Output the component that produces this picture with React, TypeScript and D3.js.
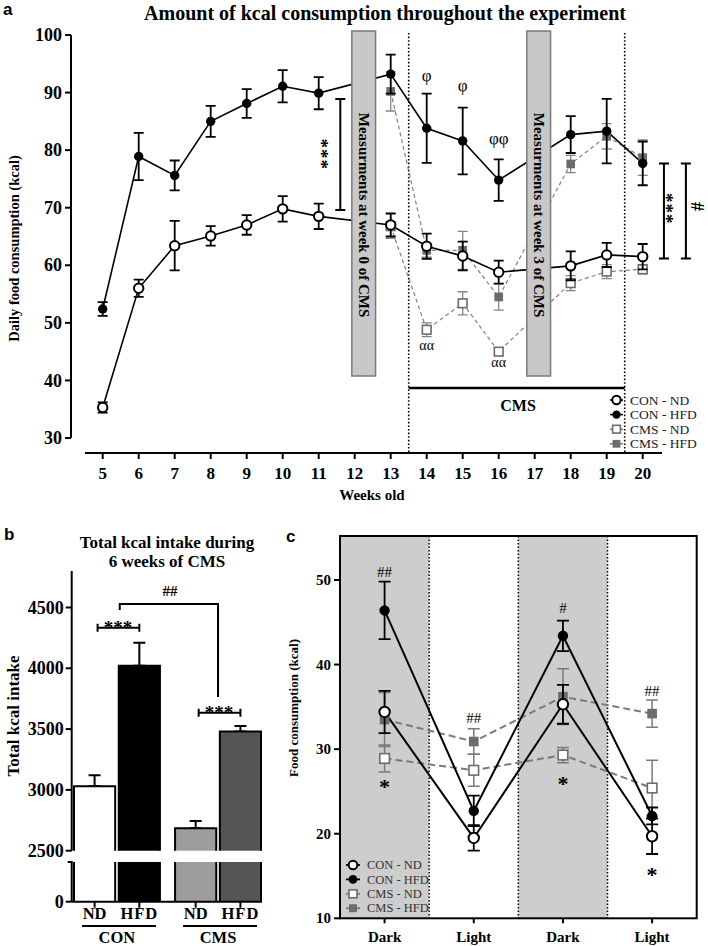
import React from 'react';
import * as d3 from 'd3';

// ---- panel a: daily kcal per week ----
const weeks = [5, 6, 7, 8, 9, 10, 11, 13, 14, 15, 16, 18, 19, 20];
const conNd = [35.3, 56.0, 63.4, 65.1, 67.0, 69.8, 68.5, 67.0, 63.3, 61.6, 58.8, 59.9, 61.8, 61.5];
const conNdErr = [0.9, 1.5, 4.3, 1.7, 1.7, 2.2, 2.2, 2.0, 2.2, 2.5, 2.0, 2.5, 2.1, 2.2];
const conHfd = [52.4, 78.9, 75.6, 85.0, 88.1, 91.1, 89.9, 93.2, 83.8, 81.6, 74.8, 82.7, 83.3, 77.7];
const conHfdErr = [1.2, 4.1, 2.6, 2.7, 2.5, 2.8, 2.8, 3.4, 6.0, 5.8, 3.6, 3.2, 5.6, 3.8];
const cmsWeeks = [13, 14, 15, 16, 18, 19, 20];
const cmsNd = [66.8, 48.8, 53.4, 45.0, 56.9, 58.9, 59.3];
const cmsNdErr = [2.1, 1.2, 2.0, 0.6, 1.3, 1.2, 0.8];
const cmsHfd = [90.2, 62.6, 62.6, 54.5, 77.6, 82.4, 78.7];
const cmsHfdErr = [3.4, 1.2, 3.3, 2.3, 1.5, 2.2, 3.1];
const weekTicks = [5, 6, 7, 8, 9, 10, 11, 12, 13, 14, 15, 16, 17, 18, 19, 20];
const dailyTicks = [30, 40, 50, 60, 70, 80, 90, 100];
const phiMarks = [[14, 93.0, 'φ'], [15, 91.3, 'φ'], [16, 82.1, 'φφ']];
const alphaMarks = [[14, 46.1], [16, 43.0]];

// ---- panel b: total kcal over 6 weeks of CMS ----
const barGroups = ['CON', 'CMS'];
const diets = ['ND', 'HFD'];
const totalKcal = [3030, 4020, 2685, 3480];
const totalKcalErr = [90, 190, 60, 45];
const totalTicks = [2500, 3000, 3500, 4000, 4500];

// ---- panel c: dark / light phase ----
const phases = ['Dark', 'Light', 'Dark', 'Light'];
const phConNd = [34.4, 19.5, 35.3, 19.7];
const phConNdErr = [2.5, 1.5, 2.3, 2.1];
const phConHfd = [46.4, 22.7, 43.4, 22.1];
const phConHfdErr = [3.4, 1.8, 1.8, 1.0];
const phCmsNd = [28.9, 27.5, 29.3, 25.4];
const phCmsNdErr = [1.6, 1.9, 0.9, 3.3];
const phCmsHfd = [33.5, 30.9, 36.2, 34.2];
const phCmsHfdErr = [3.2, 1.5, 3.3, 1.6];
const phaseTicks = [10, 20, 30, 40, 50];
const hashMarks = [[0, 51.0, '##'], [1, 33.7, '##'], [2, 46.7, '#'], [3, 36.9, '##']];
const starMarks = [[0, 26.6], [2, 27.0], [3, 16.2]];

const serif = "'Liberation Serif', 'Times New Roman', Times, serif";
const sans = "'Liberation Sans', Arial, Helvetica, sans-serif";
const GRAY = '#6c6c6c';

type Kind = 'oc' | 'fc' | 'os' | 'fs';

function Marker({ kind, x, y, r }: { kind: Kind; x: number; y: number; r: number }) {
  if (kind === 'oc') return <circle cx={x} cy={y} r={r} fill="#fff" stroke="#000" strokeWidth={2} />;
  if (kind === 'fc') return <circle cx={x} cy={y} r={r} fill="#000" />;
  const s = r * 1.85;
  if (kind === 'os')
    return <rect x={x - s / 2} y={y - s / 2} width={s} height={s} fill="#fff" stroke={GRAY} strokeWidth={1.6} />;
  return <rect x={x - s / 2} y={y - s / 2} width={s} height={s} fill={GRAY} />;
}

function ErrBar({ x, y1, y2, cap, color, w }: any) {
  return (
    <path
      d={`M${x},${y1}V${y2}M${x - cap},${y1}H${x + cap}M${x - cap},${y2}H${x + cap}`}
      stroke={color}
      strokeWidth={w}
      fill="none"
    />
  );
}

function ErrBarH({ x1, x2, y }: { x1: number; x2: number; y: number }) {
  return <path d={`M${x1},${y}H${x2}M${x1},${y - 4}V${y + 4}M${x2},${y - 4}V${y + 4}`} fill="none" stroke="#000" strokeWidth={2} />;
}

const isCon = (k: Kind) => k === 'oc' || k === 'fc';

function PanelA() {
  const x = d3.scaleLinear().domain([5, 20]).range([102.7, 642.7]);
  const y = d3.scaleLinear().domain([30, 100]).range([438, 35]);
  const axisY = 453;

  const series = [
    { name: 'CON - ND', kind: 'oc' as Kind, wk: weeks, v: conNd, e: conNdErr },
    { name: 'CON - HFD', kind: 'fc' as Kind, wk: weeks, v: conHfd, e: conHfdErr },
    { name: 'CMS - ND', kind: 'os' as Kind, wk: cmsWeeks, v: cmsNd, e: cmsNdErr },
    { name: 'CMS - HFD', kind: 'fs' as Kind, wk: cmsWeeks, v: cmsHfd, e: cmsHfdErr },
  ];
  const drawOrder = [2, 3, 0, 1];

  const boxes: [number, number, string][] = [
    [11.92, 12.58, 'Measurments at week 0 of CMS'],
    [16.78, 17.44, 'Measurments at week 3 of CMS'],
  ];

  return (
    <g>
      <text x={3} y={15} fontFamily={sans} fontWeight="bold" fontSize={17}>a</text>
      <text x={385} y={20} textAnchor="middle" fontFamily={serif} fontWeight="bold" fontSize={20}>
        Amount of kcal consumption throughout the experiment
      </text>

      {/* y axis */}
      <line x1={71} x2={71} y1={y(100)} y2={y(30)} stroke="#000" strokeWidth={2} />
      {dailyTicks.map((t) => (
        <g key={t}>
          <line x1={65} x2={71} y1={y(t)} y2={y(t)} stroke="#000" strokeWidth={2} />
          <text x={62} y={y(t)} dy="0.34em" textAnchor="end" fontFamily={serif} fontWeight="bold" fontSize={18}>
            {t}
          </text>
        </g>
      ))}
      <text
        transform={`translate(19,${(y(100) + y(30)) / 2 + 12}) rotate(-90)`}
        textAnchor="middle"
        fontFamily={serif}
        fontWeight="bold"
        fontSize={14.5}
      >
        Daily food consumption (kcal)
      </text>

      {/* x axis */}
      <line x1={85} x2={662} y1={axisY} y2={axisY} stroke="#000" strokeWidth={2} />
      {weekTicks.map((t) => (
        <g key={t}>
          <line x1={x(t)} x2={x(t)} y1={axisY} y2={axisY + 6} stroke="#000" strokeWidth={2} />
          <text x={x(t)} y={479} textAnchor="middle" fontFamily={serif} fontWeight="bold" fontSize={17}>
            {t}
          </text>
        </g>
      ))}
      <text x={372} y={500} textAnchor="middle" fontFamily={serif} fontWeight="bold" fontSize={15}>
        Weeks old
      </text>

      {/* CMS period */}
      {[13.5, 19.5].map((w) => (
        <line key={w} x1={x(w)} x2={x(w)} y1={33} y2={axisY} stroke="#000" strokeWidth={1.6} strokeDasharray="1.6,2" />
      ))}
      <line x1={x(13.5)} x2={x(19.5)} y1={388} y2={388} stroke="#000" strokeWidth={2.5} />
      <text x={518} y={411} textAnchor="middle" fontFamily={serif} fontWeight="bold" fontSize={16}>CMS</text>

      {/* lines */}
      {drawOrder.map((si) => {
        const s = series[si];
        const line = d3.line<number>().x((_, i) => x(s.wk[i])).y((d) => y(d));
        const con = isCon(s.kind);
        return (
          <path
            key={'l' + si}
            d={line(s.v) || ''}
            fill="none"
            stroke={con ? '#000' : '#808080'}
            strokeWidth={con ? 1.6 : 1.2}
            strokeDasharray={con ? undefined : '4,3'}
          />
        );
      })}

      {/* measurement boxes */}
      {boxes.map(([a, b, label]) => {
        const cx = (x(a) + x(b)) / 2;
        return (
          <g key={label}>
            <rect x={x(a)} y={31} width={x(b) - x(a)} height={345} fill="#c8c8c8" stroke="#7a7a7a" strokeWidth={1.5} />
            <text
              transform={`translate(${cx},215) rotate(90)`}
              textAnchor="middle"
              dominantBaseline="central"
              fontFamily={serif}
              fontWeight="bold"
              fontSize={15}
            >
              {label}
            </text>
          </g>
        );
      })}

      {/* error bars + markers */}
      {drawOrder.map((si) => {
        const s = series[si];
        const con = isCon(s.kind);
        return (
          <g key={'m' + si}>
            {s.v.map((v, i) => (
              <ErrBar
                key={i}
                x={x(s.wk[i])}
                y1={y(v + s.e[i])}
                y2={y(v - s.e[i])}
                cap={5}
                color={con ? '#000' : '#858585'}
                w={con ? 1.8 : 1.3}
              />
            ))}
            {s.v.map((v, i) => (
              <Marker key={i} kind={s.kind} x={x(s.wk[i])} y={y(v)} r={4.7} />
            ))}
          </g>
        );
      })}

      {/* significance */}
      {phiMarks.map(([w, v, t], i) => (
        <text key={i} x={x(w as number)} y={y(v as number)} dy="0.35em" textAnchor="middle" fontFamily={serif} fontSize={17} fill="#000">
          {t}
        </text>
      ))}
      {alphaMarks.map(([w, v], i) => (
        <text key={i} x={x(w)} y={y(v)} dy="0.3em" textAnchor="middle" fontFamily={serif} fontSize={14} fill="#000">
          αα
        </text>
      ))}
      <ErrBar x={x(11.6)} y1={y(88.9)} y2={y(69.6)} cap={5} color="#000" w={2} />
      <text transform={`translate(${x(11.6) - 12},${y(79.3)}) rotate(90)`} textAnchor="middle" dy="0.72em" fontFamily={serif} fontWeight="bold" fontSize={19} letterSpacing={1}>
        ***
      </text>
      <ErrBar x={x(20.59)} y1={y(77.7)} y2={y(61.2)} cap={5} color="#000" w={2} />
      <ErrBar x={x(21.2)} y1={y(77.7)} y2={y(61.2)} cap={5} color="#000" w={2} />
      <text transform={`translate(${x(20.85)},${y(69.8)}) rotate(90)`} textAnchor="middle" dy="0.72em" fontFamily={serif} fontWeight="bold" fontSize={19} letterSpacing={1}>
        ***
      </text>
      <text transform={`translate(${x(21.52)},${y(70.2)}) rotate(90)`} textAnchor="middle" dy="0.33em" fontFamily={serif} fontWeight="bold" fontSize={18}>
        #
      </text>

      {/* legend */}
      {series.map((s, i) => {
        const ly = 400 + i * 14.6;
        const con = isCon(s.kind);
        return (
          <g key={s.name}>
            <line x1={610} x2={623} y1={ly} y2={ly} stroke={con ? '#000' : '#808080'} strokeWidth={1.5} strokeDasharray={con ? undefined : '3,2'} />
            <Marker kind={s.kind} x={616.5} y={ly} r={4.2} />
            <text x={630} y={ly} dy="0.34em" fontFamily={serif} fontSize={13.5} fill="#222">
              {s.name}
            </text>
          </g>
        );
      })}
    </g>
  );
}

function PanelB() {
  const yUp = d3.scaleLinear().domain([2500, 4800]).range([850.7, 571]);
  const yLow = d3.scaleLinear().domain([0, 2500]).range([901.7, 862]);
  const gx = d3.scaleBand().domain(barGroups).range([74, 261]).paddingInner(0.15);
  const dx = d3.scaleBand().domain(diets).range([0, gx.bandwidth()]).paddingInner(0.08);
  const fills = ['#ffffff', '#000000', '#9c9c9c', '#555555'];
  const axX = 71.7;
  const bars = totalKcal.map((v, i) => {
    const g = barGroups[Math.floor(i / 2)];
    const d = diets[i % 2];
    const x0 = (gx(g) as number) + (dx(d) as number);
    return { v, e: totalKcalErr[i], x0, w: dx.bandwidth(), cx: x0 + dx.bandwidth() / 2, fill: fills[i], d, g };
  });

  return (
    <g>
      <text x={4} y={540} fontFamily={sans} fontWeight="bold" fontSize={17}>b</text>
      <text x={167} y={548} textAnchor="middle" fontFamily={serif} fontWeight="bold" fontSize={17}>
        Total kcal intake during
      </text>
      <text x={167} y={567} textAnchor="middle" fontFamily={serif} fontWeight="bold" fontSize={17}>
        6 weeks of CMS
      </text>

      {/* bars */}
      {bars.map((b, i) => (
        <g key={i}>
          <ErrBar x={b.cx} y1={yUp(b.v + b.e)} y2={yUp(b.v)} cap={6} color="#000" w={2} />
          <rect x={b.x0} y={yUp(b.v)} width={b.w} height={yUp(2500) - yUp(b.v)} fill={b.fill} />
          <path d={`M${b.x0},${yUp(2500)}V${yUp(b.v)}H${b.x0 + b.w}V${yUp(2500)}`} fill="none" stroke="#000" strokeWidth={2} />
          <rect x={b.x0} y={yLow(2500)} width={b.w} height={yLow(0) - yLow(2500)} fill={b.fill} />
          <path d={`M${b.x0},${yLow(2500)}V${yLow(0)}M${b.x0 + b.w},${yLow(2500)}V${yLow(0)}`} fill="none" stroke="#000" strokeWidth={2} />
        </g>
      ))}

      {/* broken y axis */}
      <path d={`M${axX},571V${yUp(2500)}`} stroke="#000" strokeWidth={2} fill="none" />
      <path d={`M${axX - 4},${yLow(2500)}H${axX}V${yLow(0)}`} stroke="#000" strokeWidth={2} fill="none" />
      {totalTicks.map((t) => (
        <g key={t}>
          <line x1={axX - 6} x2={axX} y1={yUp(t)} y2={yUp(t)} stroke="#000" strokeWidth={2} />
          <text x={axX - 8} y={yUp(t)} dy="0.34em" textAnchor="end" fontFamily={serif} fontWeight="bold" fontSize={18}>
            {t}
          </text>
        </g>
      ))}
      <line x1={axX - 6} x2={axX} y1={yLow(0)} y2={yLow(0)} stroke="#000" strokeWidth={2} />
      <text x={axX - 8} y={yLow(0)} dy="0.34em" textAnchor="end" fontFamily={serif} fontWeight="bold" fontSize={18}>0</text>
      <text transform={`translate(19,716) rotate(-90)`} textAnchor="middle" fontFamily={serif} fontWeight="bold" fontSize={17}>
        Total kcal intake
      </text>

      {/* x axis */}
      <line x1={axX} x2={262} y1={yLow(0)} y2={yLow(0)} stroke="#000" strokeWidth={2} />
      {bars.map((b, i) => (
        <g key={i}>
          <line x1={b.cx} x2={b.cx} y1={yLow(0)} y2={yLow(0) + 6} stroke="#000" strokeWidth={2} />
          <text x={b.cx} y={919} textAnchor="middle" fontFamily={serif} fontWeight="bold" fontSize={16.5} letterSpacing={i % 2 ? 1 : 0}>
            {b.d}
          </text>
        </g>
      ))}
      {barGroups.map((g) => {
        const gx0 = gx(g) as number;
        return (
          <g key={g}>
            <line x1={gx0 + 8} x2={gx0 + gx.bandwidth() - 4} y1={926} y2={926} stroke="#000" strokeWidth={2} />
            <text x={gx0 + gx.bandwidth() / 2} y={943} textAnchor="middle" fontFamily={serif} fontWeight="bold" fontSize={16.5}>
              {g}
            </text>
          </g>
        );
      })}

      {/* significance */}
      <ErrBarH x1={bars[0].cx + 3} x2={bars[1].cx} y={627.7} />
      <text x={(bars[0].cx + bars[1].cx) / 2 + 1} y={634} textAnchor="middle" fontFamily={serif} fontWeight="bold" fontSize={19}>***</text>
      <ErrBarH x1={bars[2].cx + 3} x2={bars[3].cx} y={712.7} />
      <text x={(bars[2].cx + bars[3].cx) / 2 + 1} y={719} textAnchor="middle" fontFamily={serif} fontWeight="bold" fontSize={19}>***</text>
      <path d={`M${bars[1].x0 + 1},610V604H${(bars[2].x0 + bars[2].w + bars[3].x0) / 2}V697`} fill="none" stroke="#000" strokeWidth={2} />
      <text x={170} y={596} textAnchor="middle" fontFamily={serif} fontWeight="bold" fontSize={15}>##</text>
    </g>
  );
}

function PanelC() {
  const idx = phases.map((_, i) => i);
  const x = d3.scaleBand<number>().domain(idx).range([340, 696.7]).padding(0);
  const y = d3.scaleLinear().domain([10, 55.2]).range([918.3, 536]);
  const cx = (i: number) => (x(i) as number) + x.bandwidth() / 2;

  const series = [
    { name: 'CON - ND', kind: 'oc' as Kind, v: phConNd, e: phConNdErr },
    { name: 'CON - HFD', kind: 'fc' as Kind, v: phConHfd, e: phConHfdErr },
    { name: 'CMS - ND', kind: 'os' as Kind, v: phCmsNd, e: phCmsNdErr },
    { name: 'CMS - HFD', kind: 'fs' as Kind, v: phCmsHfd, e: phCmsHfdErr },
  ];
  const drawOrder = [2, 3, 0, 1];
  const line = d3.line<number>().x((_, i) => cx(i)).y((d) => y(d));

  return (
    <g>
      <text x={286} y={542} fontFamily={sans} fontWeight="bold" fontSize={17}>c</text>

      {idx.filter((i) => i % 2 === 0).map((i) => (
        <rect key={i} x={x(i)} y={y(55.2)} width={x.bandwidth()} height={y(10) - y(55.2)} fill="#cdcdcd" />
      ))}
      {[1, 2, 3].map((i) => (
        <line key={i} x1={x(i)} x2={x(i)} y1={y(55.2)} y2={y(10)} stroke="#000" strokeWidth={1.5} strokeDasharray="1.5,2" />
      ))}

      {/* lines */}
      {drawOrder.map((si) => {
        const s = series[si];
        const con = isCon(s.kind);
        return (
          <path
            key={'l' + si}
            d={line(s.v) || ''}
            fill="none"
            stroke={con ? '#000' : '#7a7a7a'}
            strokeWidth={2}
            strokeDasharray={con ? undefined : '7,4'}
          />
        );
      })}
      {drawOrder.map((si) => {
        const s = series[si];
        const con = isCon(s.kind);
        return (
          <g key={'m' + si}>
            {s.v.map((v, i) => (
              <ErrBar key={i} x={cx(i)} y1={y(v + s.e[i])} y2={y(v - s.e[i])} cap={6} color={con ? '#000' : '#7a7a7a'} w={con ? 1.8 : 1.5} />
            ))}
            {s.v.map((v, i) => (
              <Marker key={i} kind={s.kind} x={cx(i)} y={y(v)} r={5.2} />
            ))}
          </g>
        );
      })}

      {hashMarks.map(([i, v, t], k) => (
        <text key={k} x={cx(i as number)} y={y(v as number)} dy="0.35em" textAnchor="middle" fontFamily={serif} fontSize={15}>
          {t}
        </text>
      ))}
      {starMarks.map(([i, v], k) => (
        <text key={k} x={cx(i)} y={y(v)} dy="0.75em" textAnchor="middle" fontFamily={serif} fontWeight="bold" fontSize={22}>
          *
        </text>
      ))}

      {/* frame + axes */}
      <rect x={340} y={y(55.2)} width={356.7} height={y(10) - y(55.2)} fill="none" stroke="#000" strokeWidth={2} />
      {phaseTicks.map((t) => (
        <g key={t}>
          <line x1={334} x2={340} y1={y(t)} y2={y(t)} stroke="#000" strokeWidth={2} />
          <text x={331} y={y(t)} dy="0.34em" textAnchor="end" fontFamily={serif} fontWeight="bold" fontSize={15}>
            {t}
          </text>
        </g>
      ))}
      {idx.map((i) => (
        <g key={i}>
          <line x1={cx(i)} x2={cx(i)} y1={y(10)} y2={y(10) + 5} stroke="#000" strokeWidth={2} />
          <text x={cx(i)} y={942} textAnchor="middle" fontFamily={serif} fontWeight="bold" fontSize={15}>
            {phases[i]}
          </text>
        </g>
      ))}
      <text transform={`translate(298,708) rotate(-90)`} textAnchor="middle" fontFamily={serif} fontWeight="bold" fontSize={13}>
        Food consumption (kcal)
      </text>

      {/* legend */}
      {series.map((s, i) => {
        const ly = 865 + i * 14.4;
        const con = isCon(s.kind);
        return (
          <g key={s.name}>
            <line x1={346} x2={360} y1={ly} y2={ly} stroke={con ? '#000' : '#7a7a7a'} strokeWidth={1.8} />
            <Marker kind={s.kind} x={353} y={ly} r={4.3} />
            <text x={367} y={ly} dy="0.34em" fontFamily={serif} fontSize={12.5} fill="#333">
              {s.name}
            </text>
          </g>
        );
      })}
    </g>
  );
}

export default function App() {
  return (
    <svg
      width={708}
      height={946}
      viewBox="0 0 708 946"
      style={{ position: 'absolute', left: 0, top: 0, background: '#fff' }}
    >
      <rect width={708} height={946} fill="#fff" />
      <PanelA />
      <PanelB />
      <PanelC />
    </svg>
  );
}
